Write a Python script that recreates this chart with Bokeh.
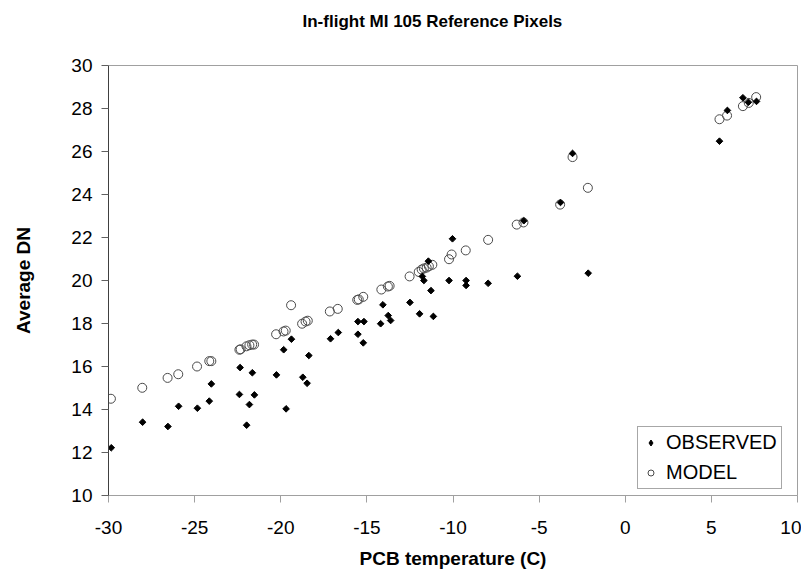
from bokeh.plotting import figure
from bokeh.models import (FixedTicker, Legend, LegendItem, Range1d, Title, ColumnDataSource,
                          LinearAxis)
from bokeh.embed import file_html
from bokeh.resources import INLINE

title_text = "In-flight MI 105 Reference Pixels"
x_title = "PCB temperature (C)"
y_title = "Average DN"
series_names = ["OBSERVED", "MODEL"]

obs_temp = [-29.84, -28.02, -26.55, -25.93, -24.84, -24.15, -24.03, -22.36, -22.40, -21.98,
            -21.82, -21.65, -21.53, -20.25, -19.83, -19.69, -19.38, -18.72, -18.47, -18.37,
            -17.11, -16.66, -15.52, -15.52, -15.17, -15.21, -14.20, -14.07, -13.76, -13.62,
            -12.50, -11.94, -11.78, -11.69, -11.43, -11.28, -11.14, -10.23, -10.03, -9.24,
            -9.24, -7.96, -6.26, -5.89, -3.76, -3.06, -2.15, 5.47, 5.93, 6.83, 7.15, 7.62]
obs_dn = [12.22, 13.41, 13.21, 14.15, 14.06, 14.39, 15.19, 15.95, 14.70, 13.27,
          14.23, 15.71, 14.68, 15.61, 16.78, 14.03, 17.27, 15.50, 15.22, 16.51,
          17.29, 17.58, 18.09, 17.50, 18.09, 17.10, 17.99, 18.87, 18.37, 18.14,
          18.98, 18.45, 20.19, 20.00, 20.90, 19.53, 18.33, 20.00, 21.94, 20.00,
          19.77, 19.87, 20.20, 22.78, 23.63, 25.91, 20.34, 26.48, 27.91, 28.50, 28.29, 28.33]

model_temp = [-29.86, -28.04, -26.57, -25.95, -24.86, -24.15, -24.03, -22.40, -22.33, -21.99,
              -21.82, -21.66, -21.55, -20.27, -19.84, -19.71, -19.40, -18.76, -18.56, -18.43,
              -17.15, -16.69, -15.56, -15.47, -15.21, -14.16, -13.78, -13.68, -12.52, -11.99,
              -11.82, -11.69, -11.53, -11.40, -11.20, -10.23, -10.08, -9.26, -7.96, -6.30,
              -5.91, -3.78, -3.06, -2.17, 5.47, 5.91, 6.83, 7.17, 7.60]
model_dn = [14.50, 15.01, 15.47, 15.64, 16.00, 16.25, 16.25, 16.78, 16.80, 16.94,
            16.99, 17.02, 17.02, 17.50, 17.63, 17.67, 18.85, 17.99, 18.09, 18.13,
            18.56, 18.68, 19.10, 19.12, 19.24, 19.58, 19.72, 19.75, 20.19, 20.40,
            20.51, 20.56, 20.60, 20.66, 20.73, 20.99, 21.21, 21.40, 21.89, 22.60,
            22.70, 23.53, 25.74, 24.31, 27.50, 27.67, 28.11, 28.26, 28.53]

x_ticks = [-30, -25, -20, -15, -10, -5, 0, 5, 10]
x_tick_labels = ["-30", "-25", "-20", "-15", "-10", "-5", "0", "5", "10"]
y_ticks = [10, 12, 14, 16, 18, 20, 22, 24, 26, 28, 30]
y_tick_labels = ["10", "12", "14", "16", "18", "20", "22", "24", "26", "28", "30"]

FONT = "Liberation Sans"

p = figure(frame_width=689, frame_height=430,
           x_range=Range1d(-30, 10), y_range=Range1d(10, 30),
           output_backend="svg", toolbar_location=None, title=None,
           min_border_left=108, min_border_right=4, min_border_top=0, min_border_bottom=78,
           background_fill_color="white", border_fill_color="white")
p.outline_line_color = "#a0a0a0"
p.outline_line_width = 1
p.grid.visible = False

# blank spacer band between the frame and the title: a single white tick at the
# left edge, no line, no labels
spacer = LinearAxis(ticker=FixedTicker(ticks=x_ticks[:1]), axis_line_color=None,
                    major_tick_line_color="white", minor_tick_line_color=None,
                    major_tick_out=26, major_tick_in=0, minor_tick_out=0, minor_tick_in=0,
                    major_label_text_alpha=0.0, axis_label=None)
p.add_layout(spacer, "above")
p.add_layout(Title(text=title_text, align="left", offset=194, standoff=18,
                   text_font=FONT, text_font_style="bold", text_font_size="17px",
                   text_color="black"), "above")

mod = p.scatter(x="t", y="v", source=ColumnDataSource(dict(t=model_temp, v=model_dn)),
                marker="circle", size=9, fill_color=None, line_color="#4a4a4a", line_width=1)
obs = p.scatter(x="t", y="v", source=ColumnDataSource(dict(t=obs_temp, v=obs_dn)),
                marker="square", angle=0.785398, size=4.7, fill_color="black", line_color="black",
                line_width=1)
# legend swatch for the observed series (diamond symbol); no visible point
obs_key = p.scatter(x="t", y="v", source=ColumnDataSource(dict(t=[float("nan")], v=[float("nan")])),
                    marker="diamond", size=8, fill_color="black", line_color="black")

# x axis
xa = p.below[0]
xa.ticker = FixedTicker(ticks=x_ticks)
xa.major_label_overrides = dict(zip(x_ticks, x_tick_labels))
xa.axis_line_color = "#a0a0a0"
xa.major_tick_line_color = "#a0a0a0"
xa.major_tick_out = 7
xa.major_tick_in = 0
xa.minor_tick_line_color = None
xa.major_label_text_font = FONT
xa.major_label_text_font_size = "19px"
xa.major_label_text_color = "black"
xa.major_label_standoff = 18
xa.axis_label = x_title
xa.axis_label_text_font = FONT
xa.axis_label_text_font_style = "bold"
xa.axis_label_text_font_size = "19px"
xa.axis_label_text_color = "black"
xa.axis_label_standoff = 11

# y axis
ya = p.yaxis[0]
ya.ticker = FixedTicker(ticks=y_ticks)
ya.major_label_overrides = dict(zip(y_ticks, y_tick_labels))
ya.axis_line_color = "#404040"
ya.major_tick_line_color = "#606060"
ya.major_tick_out = 7
ya.major_tick_in = 0
ya.minor_tick_line_color = None
ya.major_label_text_font = FONT
ya.major_label_text_font_size = "19px"
ya.major_label_text_color = "black"
ya.major_label_standoff = 9
ya.axis_label = y_title
ya.axis_label_text_font = FONT
ya.axis_label_text_font_style = "bold"
ya.axis_label_text_font_size = "19px"
ya.axis_label_text_color = "black"
ya.axis_label_standoff = 34

legend = Legend(items=[LegendItem(label=series_names[0], renderers=[obs_key]),
                       LegendItem(label=series_names[1], renderers=[mod])],
                location=(529, 6), margin=0, padding=4, spacing=7,
                glyph_width=17, glyph_height=15, label_height=15, label_standoff=7,
                label_text_font=FONT, label_text_font_size="20px", label_text_color="black",
                border_line_color="#505050", border_line_width=1,
                background_fill_color="white", background_fill_alpha=1.0)
p.add_layout(legend)

open("out.html", "w").write(file_html(p, INLINE))
